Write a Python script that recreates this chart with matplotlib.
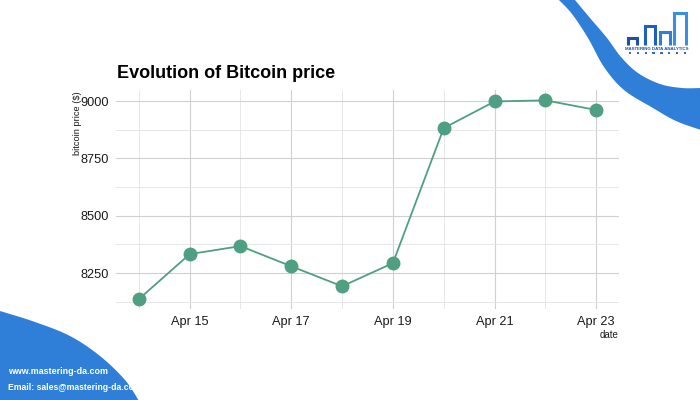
import numpy as np
import pandas as pd
import matplotlib.pyplot as plt
import matplotlib.dates as mdates
from matplotlib.patches import Polygon, Rectangle

plt.rcParams['font.family'] = ['Liberation Sans', 'DejaVu Sans']

# data
dates = pd.date_range("2018-04-14", "2018-04-23", freq="D")
prices = [8137, 8333, 8368, 8280, 8193, 8294, 8882, 8998, 9003, 8961]

title = "Evolution of Bitcoin price"
ylabel = "bitcoin price ($)"
xlabel = "date"
site = "www.mastering-da.com"
email = "Email: sales@mastering-da.com"

green = "#4f9f82"
blue = "#2f7fd8"


def smooth(pts, n=12):
    # catmull-rom through the given points, just for the decoration shapes
    pts = np.asarray(pts, float)
    p = np.vstack([pts[0], pts, pts[-1]])
    out = []
    for i in range(1, len(p) - 2):
        p0, p1, p2, p3 = p[i - 1], p[i], p[i + 1], p[i + 2]
        for t in np.linspace(0, 1, n, endpoint=False):
            out.append(0.5 * (2 * p1 + (p2 - p0) * t
                              + (2 * p0 - 5 * p1 + 4 * p2 - p3) * t ** 2
                              + (3 * p1 - p0 - 3 * p2 + p3) * t ** 3))
    out.append(pts[-1])
    return np.array(out)


fig = plt.figure(figsize=(7, 4), dpi=100)

# background decoration in pixel coords
bg = fig.add_axes([0, 0, 1, 1], zorder=0)
bg.set_xlim(0, 700)
bg.set_ylim(400, 0)
bg.axis("off")

upper = smooth([(575, 0), (590, 18), (607, 38), (621, 57), (638, 73),
                (660, 84), (682, 88), (701, 88)])
lower = smooth([(701, 130), (676, 121), (653, 108), (624, 90), (604, 67),
                (588, 38), (572, 14), (558, -1)])
bg.add_patch(Polygon(np.vstack([upper, lower]), closed=True, fc=blue, ec="none"))

edge = smooth([(0, 311), (35, 322), (70, 336), (100, 356), (125, 380),
               (139, 401)])
bg.add_patch(Polygon(np.vstack([edge, [(0, 401)]]), closed=True, fc=blue, ec="none"))

bg.text(8, 372, site, color="white", fontsize=6.4, fontweight="bold", va="center")
bg.text(8, 388, email, color="white", fontsize=6.2, fontweight="bold", va="center")

# logo
arches = [(628, 637, 38, "#1f4fa0"), (645, 655, 26, "#1f5fbf"),
          (660, 670, 32, "#2f7fd8"), (674, 686, 13, "#3a8fe0")]
for x0, x1, top, c in arches:
    bg.plot([x0, x0, x1, x1], [45, top, top, 45], color=c, lw=2.2,
            solid_capstyle="butt", solid_joinstyle="miter")
bg.text(657, 48.5, "MASTERING DATA ANALYTICS", fontsize=3.2, fontweight="bold",
        color="#1f4fa0", ha="center", va="center")
for dx in np.linspace(630, 685, 8):
    bg.add_patch(Rectangle((dx - 1.2, 52), 2.4, 2.4, fc="#2f6fc8", ec="none"))

# main chart
ax = fig.add_axes([0.1657, 0.2275, 0.7186, 0.5475], zorder=1)
ax.patch.set_alpha(0)
ax.plot(dates, prices, color=green, lw=1.3, marker="o", markersize=9,
        markerfacecolor=green, markeredgecolor=green)

ax.set_ylim(8094, 9048)
ax.set_xlim(dates[0] - pd.Timedelta(hours=10.8), dates[-1] + pd.Timedelta(hours=10.8))
ax.set_yticks([8250, 8500, 8750, 9000])
ax.set_yticks([8125, 8375, 8625, 8875], minor=True)
ax.set_xticks(dates[1::2])
ax.set_xticks(dates[0::2], minor=True)
ax.xaxis.set_major_formatter(mdates.DateFormatter("%b %d"))
ax.grid(which="major", color="#d0d0d0", lw=0.8)
ax.grid(which="minor", color="#e3e3e3", lw=0.6)
ax.set_axisbelow(True)
for s in ax.spines.values():
    s.set_visible(False)
ax.tick_params(which="both", length=0)
ax.tick_params(axis="both", labelsize=9.2, colors="#1a1a1a")
ax.tick_params(axis="x", pad=5)
ax.tick_params(axis="y", pad=5)

fig.text(0.167, 0.805, title, fontsize=13, fontweight="bold",
         ha="left", va="baseline")
fig.text(0.11, 0.772, ylabel, rotation=90, fontsize=6.7, ha="center", va="top",
         color="#1a1a1a")
fig.text(0.884, 0.162, xlabel, fontsize=7, ha="right", va="center",
         color="#1a1a1a")

fig.savefig("out.png", dpi=100)
